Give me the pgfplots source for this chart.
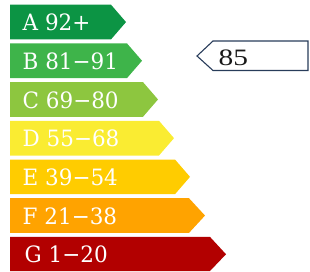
\documentclass[border=0pt]{standalone}
\usepackage{pgfplots}
\pgfplotsset{compat=1.18}
\usepackage{fontspec}
\setmainfont{DejaVu Serif}
\newfontfamily\labfont[FakeStretch=0.955]{DejaVu Serif}
\newfontfamily\valfont[FakeStretch=1.25]{Liberation Serif}
\definecolor{cA}{RGB}{12,148,68}
\definecolor{cB}{RGB}{62,180,74}
\definecolor{cC}{RGB}{141,198,63}
\definecolor{cD}{RGB}{250,236,50}
\definecolor{cE}{RGB}{255,204,0}
\definecolor{cF}{RGB}{255,163,0}
\definecolor{cG}{RGB}{178,0,0}
\definecolor{cBox}{RGB}{40,60,90}
\begin{document}
\begin{tikzpicture}
\begin{axis}[width=310pt,height=271pt,scale only axis,
  xmin=0,xmax=310,ymin=0,ymax=271,y dir=reverse,
  hide axis, clip=false]
\addplot[draw=none] coordinates {(0,0) (310,271)};
\addplot[fill=cA,draw=none] coordinates {(10,4.7) (111,4.7) (126,22.05) (111,39.4) (10,39.4)} -- cycle;
\addplot[fill=cB,draw=none] coordinates {(10,43.4) (127,43.4) (142,60.75) (127,78.1) (10,78.1)} -- cycle;
\addplot[fill=cC,draw=none] coordinates {(10,82.1) (143,82.1) (158,99.45) (143,116.8) (10,116.8)} -- cycle;
\addplot[fill=cD,draw=none] coordinates {(10,120.8) (159,120.8) (174,138.15) (159,155.5) (10,155.5)} -- cycle;
\addplot[fill=cE,draw=none] coordinates {(10,159.5) (175,159.5) (190,176.85) (175,194.2) (10,194.2)} -- cycle;
\addplot[fill=cF,draw=none] coordinates {(10,198.2) (189,198.2) (205,215.55) (189,232.9) (10,232.9)} -- cycle;
\addplot[fill=cG,draw=none] coordinates {(10,236.9) (210,236.9) (226,254.25) (210,271) (10,271)} -- cycle;
\addplot[only marks, mark=*, mark size=0pt, mark options={draw=none,fill=none},
  nodes near coords, point meta=explicit symbolic,
  nodes near coords style={anchor=west, inner sep=0pt, text=white, font=\labfont\fontsize{22.5}{26}\selectfont}]
  table[meta=lab, col sep=comma] {
x,y,lab
22.5,22.5,A 92+
22.5,61.2,B 81−91
22.5,99.9,C 69−80
22.5,138.6,D 55−68
22.5,177.3,E 39−54
22.5,216,F 21−38
24.5,254.7,G 1−20
};
\addplot[draw=cBox, line width=1.1pt, fill=white] coordinates {(197,56) (213,41) (308,41) (308,70.5) (213,70.5)} -- cycle;
\addplot[only marks, mark=*, mark size=0pt, mark options={draw=none,fill=none},
  nodes near coords, point meta=explicit symbolic,
  nodes near coords style={anchor=west, inner sep=0pt, text=black!90, font=\valfont\fontsize{23.5}{26}\selectfont}]
  table[meta=lab, col sep=comma] {
x,y,lab
218.5,58,85
};
\end{axis}
\end{tikzpicture}
\end{document}
